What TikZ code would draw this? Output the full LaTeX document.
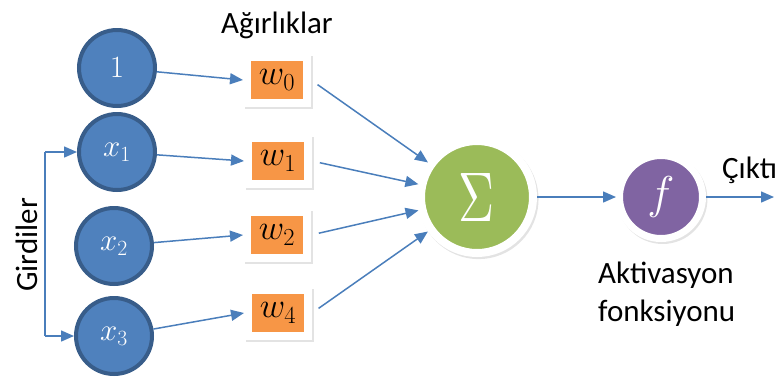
\documentclass[tikz,border=0pt]{standalone}
\usepackage{fix-cm}
\usepackage{fontspec}
\setmainfont{Carlito}
\usetikzlibrary{arrows.meta,shadows}
\definecolor{inblue}{HTML}{4F81BD}
\definecolor{inborder}{HTML}{385D8A}
\definecolor{arrowblue}{HTML}{4A7EBB}
\definecolor{worange}{HTML}{F79646}
\definecolor{sgreen}{HTML}{9BBB59}
\definecolor{fpurple}{HTML}{8064A2}
\tikzset{
  inp/.style={circle, fill=inblue, draw=inborder, line width=4pt, minimum size=76pt, inner sep=0pt, text=white, font=\fontsize{31}{34}\selectfont},
  wbox/.style={rectangle, fill=worange, draw=white, line width=8pt, minimum width=60pt, minimum height=46pt, inner sep=0pt,
    font=\fontsize{35}{38}\selectfont,
    drop shadow={opacity=0.22, shadow xshift=1.5pt, shadow yshift=-2pt, shadow scale=1.14}},
  bigcirc/.style={circle, draw=white, inner sep=0pt, text=white,
    drop shadow={opacity=0.22, shadow xshift=1.5pt, shadow yshift=-2pt, shadow scale=#1}},
  arr/.style={draw=arrowblue, line width=1.5pt, -{Triangle[length=13pt,width=11pt]}},
  plainline/.style={draw=arrowblue, line width=1.5pt},
  lbl/.style={font=\fontsize{31}{38}\selectfont, inner sep=0pt}
}
\begin{document}
\begin{tikzpicture}[x=1pt,y=-1pt]
\useasboundingbox (0,0) rectangle (779,376);
% inputs
\node[inp] (one) at (117,68) {$1$};
\node[inp] (x1) at (117,152) {$x_1$};
\node[inp] (x2) at (114,246) {$x_2$};
\node[inp] (x3) at (114,336) {$x_3$};
% weights
\node[wbox] (w0) at (277,80) {$w_0$};
\node[wbox] (w1) at (278,161) {$w_1$};
\node[wbox] (w2) at (277,235) {$w_2$};
\node[wbox] (w4) at (278,313) {$w_4$};
% sum and activation
\node[bigcirc=1.07, fill=sgreen, line width=8pt, minimum size=112pt] (sum) at (477,197)
  {\resizebox{36pt}{48pt}{$\Sigma$}};
\node[bigcirc=1.08, fill=fpurple, line width=7pt, minimum size=83pt] (f) at (661,197)
  {\fontsize{46}{50}\selectfont$f$};
% labels
\node[lbl] (agr) at (277,25) {Ağırlıklar};
\node[lbl, anchor=base west] (cikti) at (722,178) {Çıktı};
\node[lbl, anchor=north west, align=left] (akt) at (598,262) {Aktivasyon\\fonksiyonu};
\node[lbl, rotate=90] (gird) at (27,245) {Girdiler};
% bracket
\coordinate (gtop) at (45,152);
\coordinate (gbot) at (45,336);
\coordinate (out) at (774,197);
\draw[plainline] (gtop) -- (gbot);
\draw[arr] (gtop) -- (x1.west);
\draw[arr] (gbot) -- (x3.west);
% input to weights
\draw[arr] (one) -- (w0.west);
\draw[arr] (x1) -- (w1.west);
\draw[arr] (x2) -- (w2.west);
\draw[arr] (x3) -- (w4.west);
% weights to sum
\draw[arr, shorten <=8pt] (w0.east) -- (sum);
\draw[arr, shorten <=8pt] (w1.east) -- (sum);
\draw[arr, shorten <=8pt] (w2.east) -- (sum);
\draw[arr, shorten <=8pt] (w4.east) -- (sum);
% sum to f to output
\draw[arr] (sum) -- (f);
\draw[arr] (f) -- (out);
\end{tikzpicture}
\end{document}
